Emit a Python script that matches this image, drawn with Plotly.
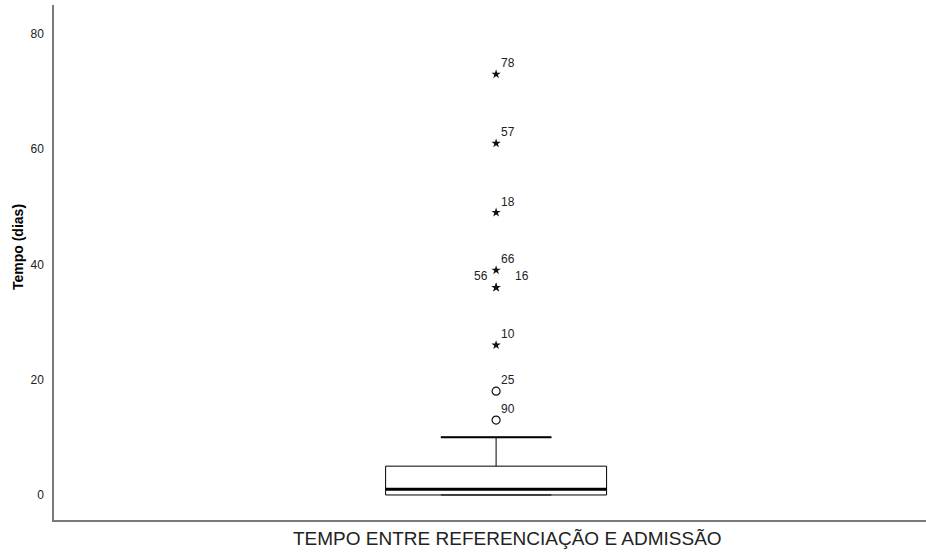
import plotly.graph_objects as go

# Summary statistics of the waiting time (days)
category = "TEMPO ENTRE REFERENCIAÇÃO E ADMISSÃO"
q1 = 0
median = 1
q3 = 5
lower_fence = 0
upper_fence = 10

# Outlying cases: value, case id, kind (mild = circle, extreme = star)
outlier_values = [13, 18, 26, 36, 36, 39, 49, 61, 73]
outlier_ids = ["90", "25", "10", "56", "16", "66", "18", "57", "78"]
outlier_kinds = ["mild", "mild", "extreme", "extreme", "extreme",
                 "extreme", "extreme", "extreme", "extreme"]

y_ticks = [0, 20, 40, 60, 80]

BOX_W = 0.2534
FONT = "Liberation Sans, Arial, sans-serif"

fig = go.Figure()

fig.add_trace(go.Box(
    x=[0], q1=[q1], median=[median], q3=[q3],
    lowerfence=[lower_fence], upperfence=[upper_fence],
    width=BOX_W, whiskerwidth=0.5, boxpoints=False,
    fillcolor="white", line=dict(color="black", width=1),
    showlegend=False, hoverinfo="skip",
))

# Heavier median stroke and upper whisker cap
fig.add_shape(type="line", xref="x", yref="y",
              x0=-BOX_W / 2, x1=BOX_W / 2, y0=median, y1=median,
              line=dict(color="black", width=3))
fig.add_shape(type="line", xref="x", yref="y",
              x0=-BOX_W / 4, x1=BOX_W / 4, y0=upper_fence, y1=upper_fence,
              line=dict(color="black", width=2))

mild_y = [v for v, k in zip(outlier_values, outlier_kinds) if k == "mild"]
ext_y = [v for v, k in zip(outlier_values, outlier_kinds) if k == "extreme"]

fig.add_trace(go.Scatter(
    x=[0] * len(mild_y), y=mild_y, mode="markers",
    marker=dict(symbol="circle-open", size=8, color="#111", line=dict(width=1.2)),
    showlegend=False, hoverinfo="skip",
))
fig.add_trace(go.Scatter(
    x=[0] * len(ext_y), y=ext_y, mode="markers",
    marker=dict(symbol="star", size=7, color="#111"),
    showlegend=False, hoverinfo="skip",
))

# Case labels next to each outlier
label_offsets = {"56": ("right", -6, 11), "16": ("left", 17, 11)}
for v, cid in zip(outlier_values, outlier_ids):
    anchor, dx, dy = label_offsets.get(cid, ("left", 3, 11))
    fig.add_annotation(x=0, y=v, xref="x", yref="y", text=cid,
                       showarrow=False, xanchor=anchor, yanchor="middle",
                       xshift=dx, yshift=dy,
                       font=dict(family=FONT, size=12, color="#222"))

# Axis titles
fig.add_annotation(x=-0.0413, y=0.53, xref="paper", yref="paper",
                   text="<b>Tempo (dias)</b>", textangle=-90, showarrow=False,
                   xanchor="center", yanchor="middle",
                   font=dict(family=FONT, size=14, color="black"))
fig.add_annotation(x=0.5206, y=-0.035, xref="paper", yref="paper",
                   text=category, showarrow=False,
                   xanchor="center", yanchor="middle",
                   font=dict(family=FONT, size=19, color="#222"))

fig.update_layout(
    width=926, height=552,
    margin=dict(l=54, r=0, t=5, b=32),
    paper_bgcolor="white", plot_bgcolor="white",
    font=dict(family=FONT, color="#222"),
    xaxis=dict(range=[-0.507, 0.493], showticklabels=False,
               showline=True, linecolor="#7a7a7a", linewidth=1.5,
               showgrid=False, zeroline=False, ticks=""),
    yaxis=dict(range=[-4.34, 85.0], tickvals=y_ticks,
               showline=True, linecolor="#7a7a7a", linewidth=1.5,
               showgrid=False, zeroline=False, ticks="",
               tickfont=dict(size=12, color="#222"), ticklabelstandoff=6),
)

fig.write_html("out.html")
